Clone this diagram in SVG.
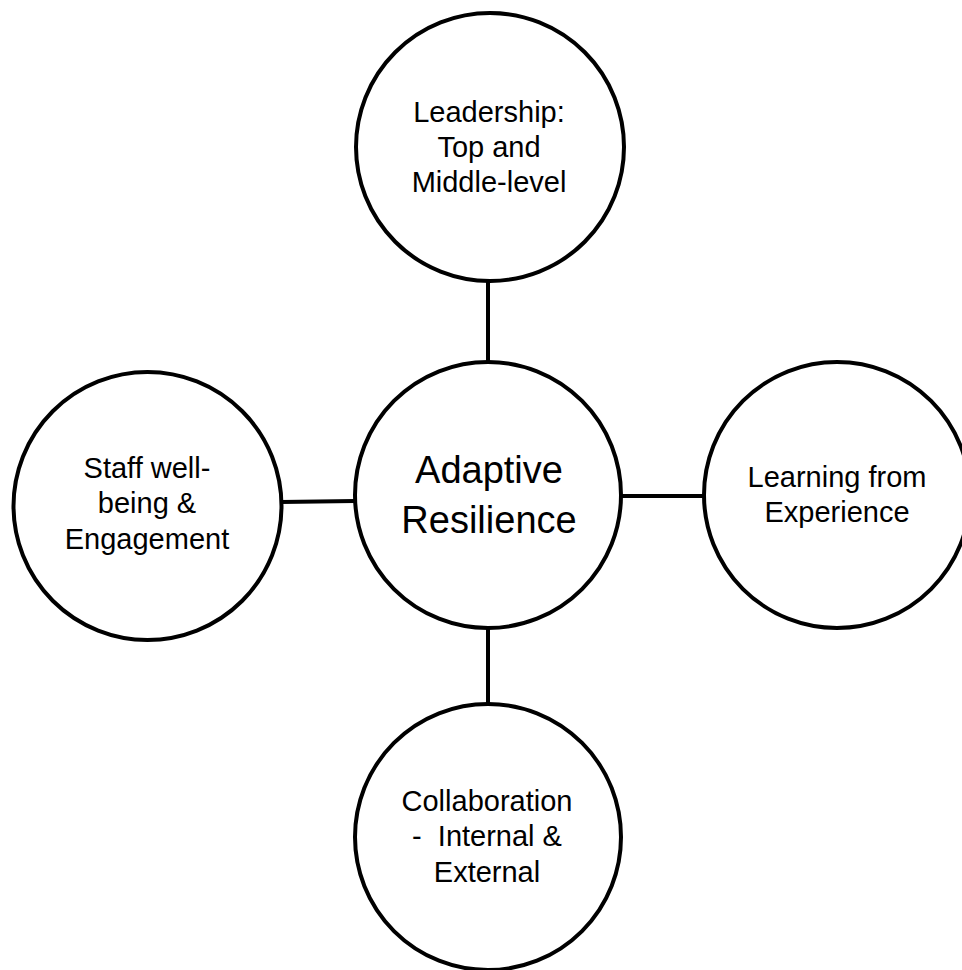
<svg xmlns="http://www.w3.org/2000/svg" width="962" height="970" viewBox="0 0 962 970">
<style>
.node{fill:#fff;stroke:#000;stroke-width:4}
.conn{stroke:#000;stroke-width:4;fill:none}
text{font-family:"Liberation Sans",Arial,sans-serif;font-size:29px;fill:#000;text-anchor:middle}
.big{font-size:38px}
</style>
<rect width="962" height="970" fill="#fff"/>
<g id="connectors">
<line class="conn" x1="488" y1="280" x2="488" y2="362"/>
<line class="conn" x1="281" y1="502" x2="355" y2="501"/>
<line class="conn" x1="621" y1="496" x2="704" y2="496"/>
<line class="conn" x1="488" y1="628" x2="488" y2="704"/>
</g>
<g id="node-top">
<circle class="node" cx="490" cy="147" r="134"/>
<text x="489" y="122">Leadership:</text>
<text x="489" y="157">Top and</text>
<text x="489" y="192">Middle-level</text>
</g>
<g id="node-center">
<circle class="node" cx="488" cy="495" r="133"/>
<text class="big" x="489" y="483">Adaptive</text>
<text class="big" x="489" y="533">Resilience</text>
</g>
<g id="node-left">
<circle class="node" cx="147.5" cy="506" r="134"/>
<text x="147" y="478">Staff well-</text>
<text x="147" y="513">being &amp;</text>
<text x="147" y="549">Engagement</text>
</g>
<g id="node-right">
<circle class="node" cx="837" cy="495" r="133"/>
<text x="837" y="487">Learning from</text>
<text x="837" y="522">Experience</text>
</g>
<g id="node-bottom">
<circle class="node" cx="488" cy="837" r="133"/>
<text x="487" y="811">Collaboration</text>
<text x="487" y="846" xml:space="preserve">-  Internal &amp;</text>
<text x="487" y="882">External</text>
</g>
</svg>
